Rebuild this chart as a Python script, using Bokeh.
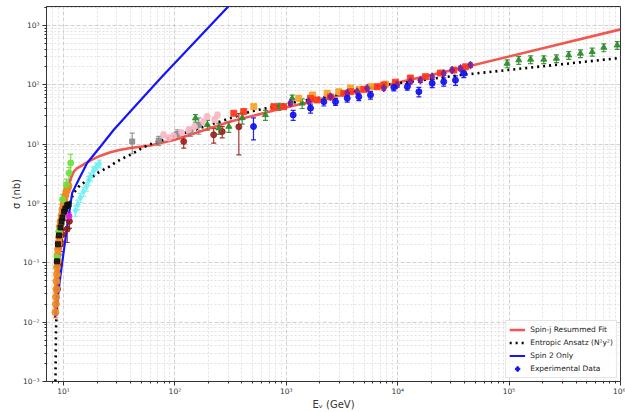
from bokeh.plotting import figure
from bokeh.models import (ColumnDataSource, Whisker, TeeHead, FixedTicker,
                          CustomJSTickFormatter, Legend, LegendItem, Range1d)
from bokeh.embed import file_html
from bokeh.resources import INLINE

# ---------------- model curves (E in GeV, sigma in nb) ----------------
red_E = [8.45, 8.65, 8.84, 9.21, 9.6, 10.0, 10.6, 11.2, 11.8, 12.4, 13.3, 14.2, 17.5, 21.5, 26.4,
         32.5, 40, 60, 100, 316, 1000, 7000, 36650, 1e6]
red_s = [0.012, 0.044, 0.106, 0.25, 0.44, 0.65, 1.36, 2.08, 2.84, 3.48, 3.94, 4.23, 5.33, 6.4, 7.3,
         8.05, 8.6, 9.5, 11.9, 24, 42, 93.6, 190, 860]

blue_E = [8.39, 8.78, 9.2, 9.73, 10.4, 11.2, 11.97, 14, 16.3, 21.5, 28.3, 40, 74.3, 150, 303, 420]
blue_s = [0.0122, 0.0216, 0.045, 0.1, 0.249, 0.65, 1.51, 2.75, 4.82, 9.15, 17.5, 35.8, 129, 524, 2113, 4060]

dot_E = [8.45, 8.47, 8.57, 8.84, 9.40, 10.06, 12.37, 14.2, 16.9, 20.7, 25.5, 30.3, 36.0,
         39.9, 49.1, 58.3, 100, 170, 477, 1253, 2494, 6546, 36650, 1e6]
dot_s = [0.0005, 0.001, 0.0077, 0.036, 0.169, 0.58, 1.51, 2.08, 2.53, 3.35, 4.13, 5.13, 6.08,
         6.64, 8.28, 9.77, 13.7, 18.8, 35.4, 52, 64.8, 95.5, 146, 284]

# ---------------- experimental data ----------------
orange1_E = [8.47, 8.56, 8.56, 8.65, 8.65, 8.74, 8.74, 8.84, 8.84, 8.93, 9.02, 9.11, 9.21,
             9.30, 9.40, 9.60, 9.79, 10.0, 10.2, 10.4, 10.6, 10.9, 11.1]
orange1_s = [0.0148, 0.0202, 0.0265, 0.036, 0.049, 0.064, 0.084, 0.106, 0.134, 0.169, 0.213,
             0.269, 0.339, 0.411, 0.499, 0.629, 0.79, 0.96, 1.17, 1.36, 1.59, 1.79, 2.0]
orange1_e = [0.003, 0.004, 0.005, 0.006, 0.008, 0.01, 0.012, 0.015, 0.02, 0.025, 0.03, 0.04,
             0.05, 0.06, 0.07, 0.09, 0.11, 0.13, 0.16, 0.19, 0.22, 0.25, 0.28]

lime_E = [8.76, 9.07, 9.79, 10.6, 11.2, 11.6]
lime_s = [0.124, 0.339, 1.17, 2.08, 3.27, 4.82]
lime_e = [0.03, 0.07, 0.25, 0.5, 0.8, 1.9]

black_E = [8.74, 8.93, 9.11, 9.40, 9.60, 9.79, 10.1, 10.4, 10.8, 11.1]
black_s = [0.106, 0.205, 0.29, 0.395, 0.499, 0.58, 0.73, 0.82, 0.93, 0.96]
black_e = [0.02, 0.03, 0.04, 0.05, 0.06, 0.07, 0.08, 0.09, 0.1, 0.1]

dred1_E = [8.84, 9.02, 9.40, 9.79, 10.8, 11.3]
dred1_s = [0.036, 0.095, 0.205, 0.30, 0.37, 0.50]
dred1_e = [0.01, 0.02, 0.05, 0.07, 0.15, 0.12]

mag_E = [11.2]
mag_s = [0.61]
mag_e = [0.08]

cyan_E = [12.8, 13.4, 14.2, 15.1, 16.1, 16.8, 17.5, 18.6, 19.8, 21.0]
cyan_s = [0.76, 0.96, 1.26, 1.59, 1.93, 2.43, 2.84, 3.58, 4.18, 4.69]
cyan_e = [0.15, 0.18, 0.22, 0.27, 0.32, 0.4, 0.45, 0.55, 0.6, 0.7]

gray_E = [41.4, 71.6, 105, 138, 164]
gray_s = [11.1, 11.5, 14.9, 16.3, 21.2]
gray_e = [4.2, 2.0, 2.6, 2.8, 6.5]

pink_E = [79.1, 88.1, 97.1, 115, 133, 150, 181, 195, 227, 241]
pink_s = [14.4, 12.7, 13.8, 15.5, 17.5, 19.6, 23.8, 29.2, 25.7, 31.1]
pink_e = [1.5, 1.5, 1.5, 1.8, 2.0, 2.2, 2.6, 3.0, 3.0, 3.4]

dred2_E = [120, 223, 266, 375]
dred2_s = [11.1, 14.4, 16.3, 19.6]
dred2_e = [2.5, 4.0, 3.5, 13.0]

green_E = [153, 196, 248, 305, 402, 650, 857, 1130, 1390]
green_s = [27.4, 21.2, 18.6, 19.8, 27.7, 31.1, 42.9, 59.3, 48.9]
green_e = [4, 4, 4, 4, 6, 6, 6, 8, 9]

greenhi_E = [96100, 122000, 156000, 205000, 266000, 343000, 437000, 557000, 708000, 934000]
greenhi_s = [229, 261, 268, 268, 278, 316, 338, 359, 426, 465]
greenhi_e = [35, 40, 40, 40, 42, 48, 50, 55, 65, 70]

red_pts_E = [338, 415, 773, 944, 1650, 1890, 2494, 3282, 3767, 4966, 6546, 7505, 9550,
             13000, 17800, 24200, 31900, 40600]
red_pts_s = [33.2, 35.4, 42.9, 42.9, 59.3, 55.6, 62.4, 72, 76.6, 84, 93, 99.3, 111,
             130, 137, 158, 177, 201]
red_pts_e = [2, 2, 3, 3, 4, 4, 4, 5, 5, 5, 6, 6, 7, 8, 8, 9, 10, 11]

orange2_E = [511, 1294, 1718, 2328, 2958, 3767, 4500, 5700, 7762]
orange2_s = [42.9, 59.3, 67.4, 72, 76.6, 88.3, 84, 93, 103]
orange2_e = [4, 5, 5, 6, 6, 7, 7, 8, 8]

purple_E = [1091, 1592, 2494, 3523, 4328, 5321, 7505, 9910, 13000, 16000, 20400, 25900,
            30800, 36600, 45000]
purple_s = [48.9, 52, 63.1, 72.8, 76.6, 87.3, 88.3, 99.3, 113, 120, 137, 156, 177, 189, 215]
purple_e = [4, 4, 5, 6, 6, 7, 7, 8, 9, 10, 11, 12, 14, 15, 18]

blue_pts_E = [508, 1153, 1650, 2172, 2767, 3523, 4477, 5700, 9230, 12200, 15500, 20400,
              25900, 33000, 39200]
blue_pts_s = [19.8, 31.1, 40.4, 52, 52, 59.3, 63.1, 67.4, 90.8, 93, 76.6, 106, 113, 120, 156]
blue_pts_e = [8, 6, 7, 8, 7, 8, 9, 10, 12, 12, 14, 16, 18, 22, 24]

x_decades = [10, 100, 1000, 10000, 100000, 1000000]
y_decades = [0.001, 0.01, 0.1, 1, 10, 100, 1000]
mantissas = [2, 3, 4, 5, 6, 7, 8, 9]

FONT = "DejaVu Sans"

p = figure(width=625, height=412, x_axis_type="log", y_axis_type="log",
           x_range=Range1d(7.04, 1e6), y_range=Range1d(1e-3, 2.09e3),
           output_backend="svg", toolbar_location=None,
           min_border_left=46, min_border_right=5, min_border_top=6, min_border_bottom=30)
p.background_fill_color = "white"
p.border_fill_color = "white"
p.outline_line_color = "#333333"
p.outline_line_width = 1

x_minor = [m * d for d in [1] + x_decades[:-1] for m in mantissas]
y_minor = [m * d for d in y_decades for m in mantissas] + [2000]
p.xaxis.ticker = FixedTicker(ticks=x_decades, minor_ticks=x_minor)
p.yaxis.ticker = FixedTicker(ticks=y_decades, minor_ticks=y_minor)

fmt_code = """
const sup = {"-":"\u207b","0":"\u2070","1":"\u00b9","2":"\u00b2","3":"\u00b3","4":"\u2074",
             "5":"\u2075","6":"\u2076","7":"\u2077","8":"\u2078","9":"\u2079"};
const e = Math.round(Math.log10(tick));
return "10" + String(e).split("").map(c => sup[c]).join("");
"""
for ax in (p.xaxis, p.yaxis):
    ax.formatter = CustomJSTickFormatter(code=fmt_code)
    ax.major_label_text_font = FONT
    ax.major_label_text_font_size = "7.5px"
    ax.major_label_text_color = "#333333"
    ax.major_tick_out = 4
    ax.major_tick_in = 0
    ax.minor_tick_out = 2
    ax.minor_tick_in = 0
    ax.axis_line_color = "#333333"
    ax.major_tick_line_color = "#333333"
    ax.minor_tick_line_color = "#333333"
    ax.axis_label_text_font = FONT
    ax.axis_label_text_font_size = "10px"
    ax.axis_label_text_font_style = "normal"
    ax.axis_label_text_color = "#333333"

p.yaxis.major_label_standoff = 3
p.yaxis.axis_label = "σ (nb)"
p.yaxis.axis_label_standoff = -2
p.xaxis.major_label_standoff = 1
p.xaxis.axis_label = "E\u1d65 (GeV)"
p.xaxis.axis_label_standoff = 0

for g in (p.xgrid, p.ygrid):
    g.grid_line_color = "#b0b0b0"
    g.grid_line_alpha = 0.6
    g.grid_line_dash = "4 2"
    g.minor_grid_line_color = "#d0d0d0"
    g.minor_grid_line_alpha = 0.6
    g.minor_grid_line_dash = "2 2"

# curves
r_red = p.line(red_E, red_s, line_color="#F0463C", line_width=2.6, line_alpha=0.9)
r_dot = p.line(dot_E, dot_s, line_color="black", line_width=2.6, line_dash="2 4")
r_blue = p.line(blue_E, blue_s, line_color="#1414FF", line_width=2.2)

def errbar(E, s, e, color, marker="circle", size=6, alpha=0.9):
    src = ColumnDataSource(dict(x=E, y=s, lo=[a - b for a, b in zip(s, e)],
                                hi=[a + b for a, b in zip(s, e)]))
    w = Whisker(source=src, base="x", lower="lo", upper="hi", dimension="height",
                line_color=color, line_width=1.2, line_alpha=alpha,
                upper_head=TeeHead(size=5, line_color=color, line_width=1.2, line_alpha=alpha),
                lower_head=TeeHead(size=5, line_color=color, line_width=1.2, line_alpha=alpha))
    p.add_layout(w)
    return p.scatter("x", "y", source=src, marker=marker, size=size, fill_color=color,
                     line_color=color, fill_alpha=alpha, line_alpha=alpha)

errbar(dred1_E, dred1_s, dred1_e, "#8B1A1A")
errbar(orange1_E, orange1_s, orange1_e, "#F08A24", size=7)
errbar(lime_E, lime_s, lime_e, "#6EE03C")
errbar(black_E, black_s, black_e, "#111111", marker="square", size=5)
errbar(mag_E, mag_s, mag_e, "#E020E0")
errbar(cyan_E, cyan_s, cyan_e, "#70F0F4", marker="diamond", size=7)
errbar(gray_E, gray_s, gray_e, "#8C8C8C", marker="square", size=5)
errbar(pink_E, pink_s, pink_e, "#F8B8C4")
errbar(dred2_E, dred2_s, dred2_e, "#9B2020")
errbar(green_E, green_s, green_e, "#2E8B2E", marker="triangle")
errbar(greenhi_E, greenhi_s, greenhi_e, "#2E8B2E", marker="triangle")
errbar(orange2_E, orange2_s, orange2_e, "#F5A52A", marker="square", size=6)
errbar(red_pts_E, red_pts_s, red_pts_e, "#FF3A1A", marker="square", size=6)
errbar(purple_E, purple_s, purple_e, "#7A1FA0", marker="diamond", size=8)
errbar(blue_pts_E, blue_pts_s, blue_pts_e, "#1010F0")

# legend-only glyph for experimental data (NaN point: never drawn in the plot)
nan = float("nan")
d1 = p.scatter([nan], [nan], marker="plus", size=8, fill_color="#1010F0", line_color="#1010F0")

legend = Legend(items=[
    LegendItem(label="Spin-j Resummed Fit", renderers=[r_red]),
    LegendItem(label="Entropic Ansatz (N²y²)", renderers=[r_dot]),
    LegendItem(label="Spin 2 Only", renderers=[r_blue]),
    LegendItem(label="Experimental Data", renderers=[d1]),
], location="bottom_right")
legend.label_text_font = FONT
legend.label_text_font_size = "7.5px"
legend.label_text_color = "#222222"
legend.glyph_width = 16
legend.glyph_height = 11
legend.label_height = 11
legend.spacing = 2
legend.padding = 3
legend.margin = 3
legend.label_standoff = 5
legend.border_line_color = "#cccccc"
legend.background_fill_alpha = 0.85
p.add_layout(legend)

open("out.html", "w").write(file_html(p, INLINE))
